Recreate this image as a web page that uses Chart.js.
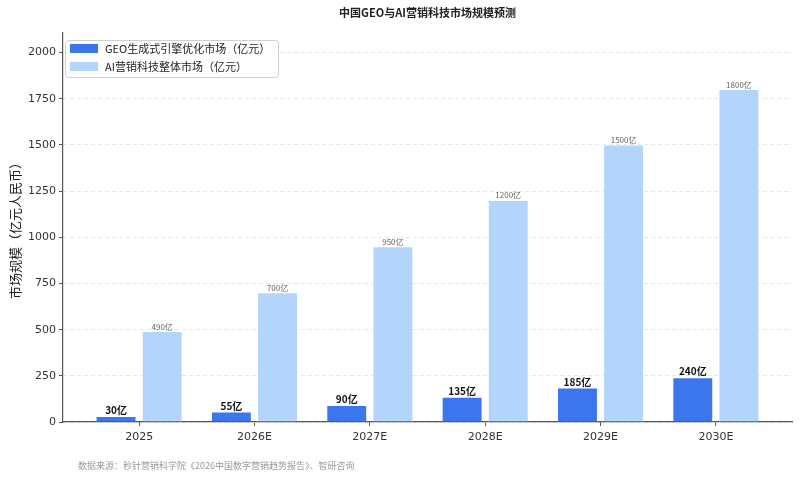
<!DOCTYPE html>
<html>
<head>
<meta charset="utf-8">
<script src="https://cdn.jsdelivr.net/npm/chart.js@4"></script>
<style>
  body { margin: 0; background: #fff; }
  #wrap { width: 800px; height: 479px; }
</style>
</head>
<body>
<div id="wrap"><canvas id="myChart"></canvas></div>
<script>
let years = ['2025', '2026E', '2027E', '2028E', '2029E', '2030E'];
let geoValues = [30, 55, 90, 135, 185, 240];
let aiValues = [490, 700, 950, 1200, 1500, 1800];
let yTicks = [0, 250, 500, 750, 1000, 1250, 1500, 1750, 2000];
let seriesNames = ['GEO生成式引擎优化市场（亿元）', 'AI营销科技整体市场（亿元）'];
let chartTitle = '中国GEO与AI营销科技市场规模预测';
let yTitle = '市场规模（亿元人民币）';
let sourceNote = '数据来源：秒针营销科学院《2026中国数字营销趋势报告》、智研咨询';

let fontFam = '"DejaVu Sans", "Noto Sans CJK SC", sans-serif';
let cjkFam = '"Noto Sans CJK SC", "DejaVu Sans", sans-serif';

// title, footnote, legend box and value labels
let extras = {
  id: 'extras',
  afterDatasetsDraw(chart) {
    let ctx = chart.ctx;
    ctx.save();
    ctx.textAlign = 'center';
    ctx.textBaseline = 'bottom';
    chart.getDatasetMeta(0).data.forEach((bar, i) => {
      ctx.font = 'bold 10px ' + cjkFam;
      ctx.fillStyle = '#111';
      ctx.fillText(geoValues[i] + '亿', bar.x, bar.y - 1);
    });
    chart.getDatasetMeta(1).data.forEach((bar, i) => {
      ctx.font = '8px ' + cjkFam;
      ctx.fillStyle = '#666';
      ctx.fillText(aiValues[i] + '亿', bar.x, bar.y - 1);
    });

    // legend
    ctx.fillStyle = 'rgba(255,255,255,0.85)';
    ctx.strokeStyle = '#d0d0d0';
    ctx.lineWidth = 1;
    ctx.beginPath();
    ctx.roundRect(65.5, 40.5, 213, 37, 3);
    ctx.fill();
    ctx.stroke();
    chart.data.datasets.forEach((ds, i) => {
      let cy = 48.5 + i * 18;
      ctx.fillStyle = ds.backgroundColor;
      ctx.fillRect(70, cy - 4.5, 28, 9);
      ctx.fillStyle = '#222';
      ctx.font = '11px ' + cjkFam;
      ctx.textAlign = 'left';
      ctx.textBaseline = 'middle';
      ctx.fillText(ds.label, 105, cy);
    });

    let a = chart.chartArea;
    ctx.font = 'bold 11px ' + cjkFam;
    ctx.fillStyle = '#222';
    ctx.textAlign = 'center';
    ctx.textBaseline = 'middle';
    ctx.fillText(chartTitle, (a.left + a.right) / 2, 13);
    ctx.font = '9px ' + cjkFam;
    ctx.fillStyle = '#9a9a9a';
    ctx.textAlign = 'left';
    ctx.fillText(sourceNote, 78, 466);
    ctx.restore();
  }
};

let ctx = document.getElementById('myChart').getContext('2d');

let chart = new Chart(ctx, {
  type: 'bar',
  data: {
    datasets: [{
      label: seriesNames[0],
      data: geoValues.map((v, i) => ({x: i, y: v})),
      backgroundColor: '#3b76ec',
      borderColor: '#ffffff',
      borderWidth: 0.6,
      categoryPercentage: 0.8,
      barPercentage: 0.87
    }, {
      label: seriesNames[1],
      data: aiValues.map((v, i) => ({x: i, y: v})),
      backgroundColor: '#b3d5fb',
      borderColor: '#ffffff',
      borderWidth: 0.6,
      categoryPercentage: 0.8,
      barPercentage: 0.87
    }]
  },
  plugins: [extras],
  options: {
    responsive: true,
    maintainAspectRatio: false,
    animation: false,
    layout: { padding: { top: 33, right: 8, left: 0, bottom: 0 } },
    plugins: {
      title: { display: false },
      tooltip: { enabled: false },
      legend: { display: false }
    },
    scales: {
      x: {
        type: 'linear',
        offset: false,
        min: -0.66,
        max: 5.66,
        afterBuildTicks(scale) {
          scale.ticks = years.map((y, i) => ({value: i}));
        },
        afterFit(scale) { scale.height = 57; },
        ticks: {
          callback: (v) => years[v],
          color: '#333',
          font: { family: fontFam, size: 11 },
          padding: 5,
          autoSkip: false,
          maxRotation: 0
        },
        grid: { offset: false, drawOnChartArea: false, tickLength: 4, tickColor: '#555' },
        border: { color: '#555', width: 1.2 }
      },
      y: {
        min: 0,
        max: 2106,
        afterBuildTicks(scale) {
          scale.ticks = yTicks.map(v => ({value: v}));
        },
        afterFit(scale) { scale.width = 63; },
        title: {
          display: true,
          text: yTitle,
          color: '#222',
          font: { family: cjkFam, size: 13 },
          padding: { top: 7, bottom: 0 }
        },
        ticks: {
          callback: (v) => String(v),
          color: '#333',
          font: { family: fontFam, size: 11 },
          padding: 3
        },
        grid: {
          color: '#e6e6e6',
          tickColor: '#555',
          tickLength: 4
        },
        border: { color: '#555', width: 1.2, dash: [4, 3] }
      }
    }
  }
});
</script>
</body>
</html>
